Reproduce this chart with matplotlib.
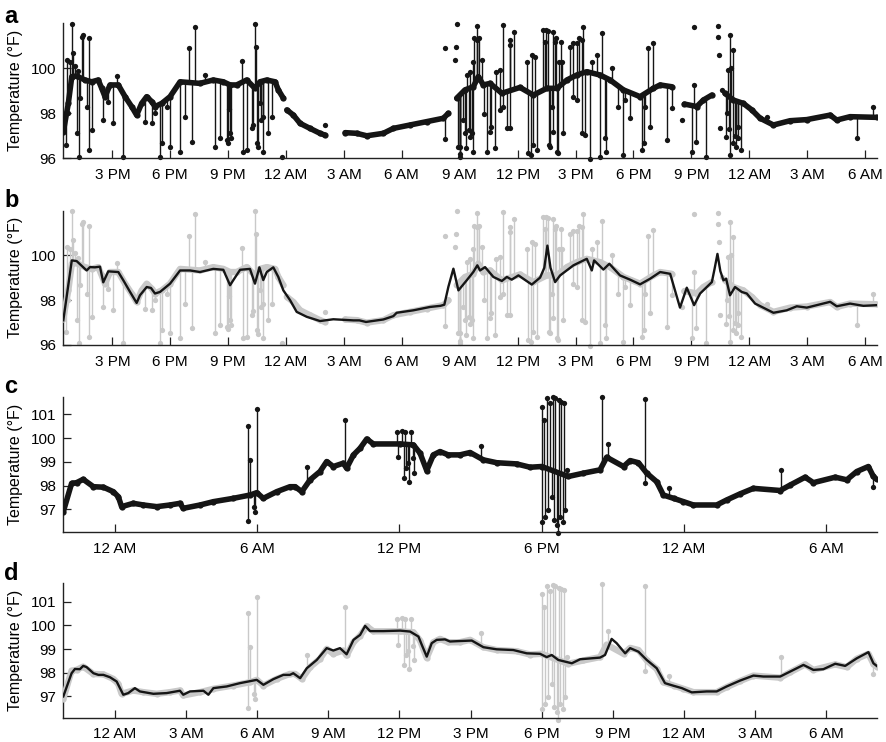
import numpy as np
import matplotlib
matplotlib.use("Agg")
import matplotlib.pyplot as plt

plt.rcParams['font.family'] = ['Liberation Sans', 'DejaVu Sans']

nan = np.nan

# ---------------- Panels a / b (hours since midnight of day 1) ----------------
ab_ticks = [15, 18, 21, 24, 27, 30, 33, 36, 39, 42, 45, 48, 51, 54]
ab_ticklabels = ['3 PM', '6 PM', '9 PM', '12 AM', '3 AM', '6 AM', '9 AM', '12 PM',
                 '3 PM', '6 PM', '9 PM', '12 AM', '3 AM', '6 AM']
ab_yticks = [96, 98, 100]

a_base_t = [12.46, 12.72, 12.9, 13.15, 13.58, 13.93, 14.27, 14.45, 14.62, 14.88, 15.31,
            15.66, 16.0, 16.26, 16.52, 16.78, 17.04, 17.21, 17.56, 17.99, 18.51, 19.54,
            20.23, 20.75, 21.1, 21.44, 21.96, 22.39, 22.65, 23.0, 23.43, 23.6, 23.86, 23.95,
            24.04, 24.38, 24.73, 25.24, 25.76, 26.02, 26.5,
            27.06, 27.66, 28.18, 29.04, 29.56, 30.42, 31.29, 32.15, 32.41, 32.6,
            32.84, 33.27, 33.7, 33.96, 34.22, 34.57, 35.18, 36.12, 36.81, 37.51, 38.03,
            38.55, 39.06, 39.58, 40.27, 40.79, 41.48, 42.34, 43.03, 43.38, 43.98, 44.3,
            44.64, 45.28, 45.62, 46.06, 46.4,
            46.74, 47.17, 47.69, 48.13, 48.56, 49.25, 50.11, 50.98, 52.19, 52.53, 53.22, 54.6]
a_base_v = [97.18, 98.44, 99.63, 99.66, 99.48, 99.4, 99.48, 99.11, 98.74, 99.26, 99.26,
            98.74, 98.3, 97.92, 98.44, 98.74, 98.52, 98.3, 98.44, 98.74, 99.4, 99.33,
            99.48, 99.4, 99.26, 99.26, 99.48, 99.11, 99.4, 99.48, 99.4, 99.04, 98.67, nan,
            98.15, 97.92, 97.55, 97.33, 97.11, 97.03, nan,
            97.14, 97.11, 97.0, 97.11, 97.33, 97.48, 97.63, 97.78, 98.0, nan,
            98.67, 99.04, 99.18, 99.63, 99.26, 99.33, 98.89, 99.15, 98.81, 99.11, 99.11,
            99.48, 99.7, 99.85, 99.7, 99.48, 99.04, 98.74, 99.11, 99.26, 99.18, nan,
            98.41, 98.3, 98.59, 98.81, nan,
            98.89, 98.59, 98.44, 98.15, 97.78, 97.48, 97.67, 97.72, 97.92, 97.7, 97.85, 97.82]

a_spike_t = [12.58, 12.63, 12.7, 12.81, 12.89, 12.98, 13.05, 13.15, 13.2, 13.29, 13.35, 13.41,
             13.5, 13.67, 13.81, 13.81,
             13.93, 14.5, 14.79, 15.05, 15.22, 15.53, 16.69, 17.04, 17.21, 17.47, 17.59, 17.81,
             17.99, 18.5, 18.76, 18.99, 19.11, 19.28, 19.8, 20.32, 20.58, 20.92, 21.0, 21.05,
             21.1, 21.15, 21.7,
             21.75, 21.96, 22.22, 22.3, 22.39, 22.43, 22.48, 22.55, 22.65, 22.7, 22.82, 22.82,
             23.08, 23.25,
             32.24, 32.93, 33.0, 33.02, 33.02, 33.17, 33.29, 33.33, 33.37, 33.46, 33.53, 33.55,
             33.62, 33.68, 33.71, 33.76, 33.89, 33.91, 34.02, 34.14, 34.24, 34.4, 34.57, 34.64,
             34.8, 34.9, 35.09, 35.09, 35.26, 35.26, 35.44, 35.58, 35.61, 35.61, 35.81, 36.47,
             36.56, 36.68, 36.73, 36.81, 36.9, 36.99, 37.33, 37.42, 37.47, 37.59, 37.6, 37.68,
             37.77, 37.85, 37.85, 37.94, 37.99, 38.03, 38.11, 38.16, 38.23, 38.29, 38.37, 38.72,
             38.86, 38.89, 39.06, 39.06, 39.2, 39.32, 39.32, 39.41,
             39.49, 39.75, 39.84, 40.1, 40.24, 40.36, 40.5, 40.56, 40.91, 41.22, 41.48, 41.57,
             41.82, 42.43, 42.52, 42.6, 42.77, 42.83, 43.0, 43.76, 44.02, 45.02, 45.16, 45.24,
             45.76, 46.8, 46.85, 46.92, 46.95, 47.0, 47.0, 47.05, 47.13, 47.18, 47.25, 47.32,
             47.4, 47.44, 47.58, 48.91, 53.57, 54.43]
a_spike_v = [96.59, 100.37, 98.0, 100.3, 101.97, 100.67, 100.1, 97.11, 99.9, 96.07, 98.7, 101.4,
             101.48, 98.3, 101.33, 96.37,
             97.26, 97.7, 98.52, 97.56, 99.66, 96.07, 97.63, 97.56, 98.0, 96.07, 96.67, 98.3,
             96.52, 96.3, 97.85, 100.89, 96.74, 101.85, 99.7, 96.52, 96.89, 96.81, 96.7, 98.2,
             97.11, 96.9, 100.33,
             96.3, 96.37, 97.33, 97.5, 101.97, 100.96, 96.67, 96.5, 98.44, 97.7, 96.3, 97.85,
             97.11, 97.85,
             96.84, 96.52, 96.2, 96.07, 96.52, 97.7, 97.11, 96.44, 99.7, 97.26, 99.85, 96.96,
             97.11, 100.3, 96.3, 101.33, 101.26, 101.88, 101.33, 100.37, 97.99, 96.3, 97.19, 97.41,
             96.44, 99.85, 99.93, 98.15, 101.93, 98.3, 97.33, 101.26, 101.04, 97.33, 101.63, 100.3,
             96.22, 96.15, 100.59, 96.59, 100.52, 96.37, 101.7, 101.19, 101.7, 101.67, 96.59, 96.52,
             98.3, 101.63, 97.19, 101.19, 101.33, 96.3, 96.22, 100.3, 101.19, 100.3, 97.11, 100.96,
             101.11, 98.74, 98.59, 101.11, 101.33, 101.26, 97.11, 101.85,
             97.04, 95.96, 100.3, 100.59, 96.07, 101.56, 96.89, 96.3, 100.0, 98.3, 96.15, 98.59,
             97.78, 96.37, 96.67, 98.3, 100.89, 97.41, 101.14, 96.81, 98.22, 96.3, 99.26, 96.74,
             96.07, 96.96, 98.0, 99.93, 97.3, 101.48, 96.15, 100.0, 100.81, 96.67, 97.0, 96.52,
             96.9, 97.41, 96.37, 97.85, 96.89, 98.3]

a_dot_t = [23.77, 26.02, 32.24, 32.76, 32.81, 32.84, 44.5, 45.11, 46.4, 46.4, 46.45, 46.49, 46.57]
a_dot_v = [96.07, 97.48, 100.89, 100.37, 100.96, 101.97, 97.7, 101.85, 101.88, 101.41, 100.59, 97.33, 99.04]

b_smooth_t = [12.46, 12.9, 13.15, 13.67, 13.84, 14.1, 14.36, 14.53, 14.79, 15.31, 15.57, 15.92,
              16.26, 16.43, 16.78, 17.0, 17.21, 17.47, 17.99, 18.51, 19.03, 19.54, 20.23, 20.75,
              21.1, 21.27, 21.62, 22.13, 22.39, 22.62, 22.82, 23.0, 23.34, 23.6, 23.86, 24.21,
              24.55, 25.07, 25.76, 26.45, 27.49, 27.8, 28.14, 29.04, 29.56, 29.73, 30.6, 31.46,
              32.0, 32.2, 32.41, 32.67, 32.93, 33.36, 33.7, 33.91, 34.05, 34.31, 34.74, 35.18,
              35.44, 35.69, 36.04, 36.73, 37.16, 37.38, 37.54, 37.7, 37.94, 38.2, 38.89, 39.58,
              39.84, 39.96, 40.44, 40.75, 41.3, 41.82, 42.34, 42.86, 43.38, 43.9, 44.41, 44.76,
              45.14, 45.45, 46.06, 46.2, 46.35, 46.5, 46.66, 46.8, 47.0, 47.26, 47.61, 47.87,
              48.3, 49.25, 49.94, 50.46, 50.98, 52.19, 52.53, 53.22, 53.91, 54.6]
b_smooth_v = [97.1, 99.78, 99.75, 99.33, 99.48, 99.47, 99.5, 98.8, 99.29, 99.26, 98.89, 98.37,
              97.88, 98.22, 98.59, 98.55, 98.3, 98.37, 98.74, 99.33, 99.33, 99.26, 99.4, 99.36,
              98.67, 98.9, 99.36, 99.4, 98.74, 99.47, 98.9, 99.26, 99.47, 99.04, 98.44, 98.0,
              97.48, 97.26, 97.07, 97.15, 97.1, 97.1, 97.03, 97.14, 97.29, 97.44, 97.55, 97.7,
              97.75, 97.8, 98.6, 99.41, 98.44, 98.89, 99.26, 99.56, 99.33, 99.48, 99.04, 98.86,
              99.04, 98.92, 99.11, 98.7, 99.01, 99.45, 100.44, 99.45, 98.81, 99.11, 99.56, 99.85,
              99.33, 99.78, 99.37, 99.63, 99.11, 98.92, 98.71, 98.96, 99.26, 99.18, 97.67, 98.56,
              97.78, 98.3, 98.81, 99.4, 100.07, 99.3, 98.89, 98.96, 98.22, 98.59, 98.37, 98.3,
              97.85, 97.44, 97.55, 97.73, 97.67, 97.93, 97.73, 97.85, 97.75, 97.78]

# ---------------- Panels c / d (hours since midnight of day 1) ----------------
c_ticks = [0, 6, 12, 18, 24, 30]
c_ticklabels = ['12 AM', '6 AM', '12 PM', '6 PM', '12 AM', '6 AM']
d_ticks = [0, 3, 6, 9, 12, 15, 18, 21, 24, 27, 30]
d_ticklabels = ['12 AM', '3 AM', '6 AM', '9 AM', '12 PM', '3 PM', '6 PM', '9 PM',
                '12 AM', '3 AM', '6 AM']
cd_yticks = [97, 98, 99, 100, 101]

c_base_t = [-2.18, -1.83, -1.62, -1.34, -0.91, -0.49, -0.07, 0.14, 0.28, 0.77, 1.2, 1.76, 2.32,
            2.74, 2.88, 3.59, 4.15, 4.99, 5.7, 5.98, 6.26, 6.82, 7.38, 7.6, 7.88, 8.23, 8.65,
            8.93, 9.21, 9.63, 9.77, 10.06, 10.34, 10.62, 10.9, 12.03, 12.59, 12.87, 13.15,
            13.43, 13.71, 14.06, 14.55, 14.98, 15.54, 16.1, 16.94, 17.51, 18.0, 19.12, 19.76,
            20.46, 20.74, 21.45, 21.73, 22.08, 22.43, 22.85, 23.13, 23.56, 23.98, 24.4, 25.38,
            25.8, 26.37, 26.93, 28.06, 28.48, 29.11, 29.46, 30.38, 30.87, 31.29, 31.78, 31.99,
            32.13]
c_base_v = [96.9, 98.09, 98.12, 98.26, 97.95, 97.93, 97.74, 97.53, 97.11, 97.25, 97.18, 97.11,
            97.18, 97.25, 97.04, 97.18, 97.32, 97.46, 97.6, 97.7, 97.46, 97.74, 97.95, 97.95,
            97.74, 98.24, 98.59, 99.01, 98.8, 98.94, 98.73, 99.29, 99.57, 99.96, 99.75, 99.75,
            99.71, 99.36, 98.63, 99.29, 99.43, 99.29, 99.29, 99.39, 99.08, 98.96, 98.91, 98.77,
            98.8, 98.38, 98.52, 98.66, 99.19, 98.8, 99.05, 98.96, 98.52, 98.16, 97.6, 97.46,
            97.32, 97.18, 97.18, 97.39, 97.65, 97.88, 97.79, 98.02, 98.35, 98.12, 98.35, 98.24,
            98.59, 98.8, 98.38, 98.26]

c_spike_t = [5.6, 5.6, 5.7, 5.86, 5.91, 5.98, 8.12, 9.7, 11.88, 11.95, 12.1, 12.17, 12.24, 12.28,
             12.38, 12.42, 12.47, 12.56, 12.61, 15.43,
             18.03, 18.03, 18.1, 18.14, 18.21, 18.28, 18.35, 18.42, 18.49, 18.53, 18.58, 18.63,
             18.67, 18.72, 18.77, 18.83, 18.89, 18.94, 19.0, 19.05,
             20.55, 20.78, 22.36, 22.36, 23.39, 28.08, 31.97]
c_spike_v = [100.51, 96.52, 99.08, 97.11, 96.9, 101.21, 98.77, 100.76, 100.27, 99.19, 100.3, 98.31,
             100.27, 98.73, 98.94, 98.16, 100.27, 99.15, 98.54, 99.67,
             101.32, 96.48, 100.76, 96.69, 101.67, 96.97, 101.46, 97.53, 101.72, 96.55, 101.67,
             96.34, 96.02, 101.6, 96.69, 101.53, 96.48, 101.49, 96.97, 98.66,
             101.74, 99.75, 101.65, 98.09, 97.88, 98.66, 97.95]

d_smooth_t = [-2.18, -1.83, -1.69, -1.48, -1.34, -1.2, -0.91, -0.7, -0.49, -0.21, 0.07, 0.21,
              0.35, 0.56, 0.84, 1.05, 1.62, 2.18, 2.74, 2.88, 3.16, 3.73, 3.94, 4.15, 4.71,
              5.27, 5.98, 6.26, 6.68, 7.1, 7.38, 7.52, 7.81, 8.09, 8.51, 8.93, 9.21, 9.49,
              9.77, 10.06, 10.34, 10.55, 10.76, 11.32, 12.03, 12.45, 12.8, 12.94, 13.15, 13.36,
              13.57, 13.92, 14.13, 14.55, 15.05, 15.54, 16.1, 16.8, 17.37, 17.93, 18.21, 18.42,
              18.7, 19.27, 19.62, 20.46, 20.67, 20.95, 21.16, 21.52, 21.73, 22.08, 22.43, 22.85,
              23.2, 23.56, 23.91, 24.33, 24.96, 25.38, 25.8, 26.37, 26.93, 27.35, 28.06, 28.48,
              29.04, 29.46, 29.88, 30.38, 30.8, 31.29, 31.78, 31.99, 32.13]
d_smooth_v = [97.0, 97.98, 98.16, 98.15, 98.29, 98.24, 97.98, 97.91, 97.91, 97.81, 97.63, 97.35,
              97.07, 97.14, 97.35, 97.21, 97.11, 97.14, 97.24, 97.07, 97.21, 97.24, 97.07, 97.35,
              97.42, 97.56, 97.7, 97.49, 97.73, 97.91, 97.91, 97.98, 97.77, 98.19, 98.54, 99.04,
              98.94, 99.04, 98.78, 99.39, 99.6, 99.98, 99.76, 99.76, 99.78, 99.74, 99.53, 99.18,
              98.68, 99.25, 99.39, 99.41, 99.32, 99.34, 99.36, 99.08, 98.99, 98.96, 98.82, 98.8,
              98.66, 98.75, 98.54, 98.4, 98.57, 98.64, 98.75, 99.43, 99.25, 98.82, 99.04, 98.89,
              98.54, 98.19, 97.56, 97.45, 97.35, 97.17, 97.21, 97.21, 97.42, 97.67, 97.88, 97.84,
              97.84, 98.05, 98.33, 98.12, 98.15, 98.38, 98.29, 98.61, 98.87, 98.4, 98.29]

# ---------------- drawing ----------------
BLACK = '#151515'
GRAY = '#c9c9c9'
W, H = 887.0, 742.0


def make_ax(fig, top, bottom):
    ax = fig.add_axes([63.3 / W, 1 - bottom / H, 813.4 / W, (bottom - top) / H])
    for s in ('top', 'right'):
        ax.spines[s].set_visible(False)
    for s in ('left', 'bottom'):
        ax.spines[s].set_linewidth(1.0)
        ax.spines[s].set_color('#222222')
    ax.tick_params(direction='in', length=6, width=0.9, labelsize=11, color='#222222',
                   pad=5)
    ax.tick_params(axis='x', pad=7)
    ax.set_ylabel('Temperature (°F)', fontsize=11.5)
    ax.yaxis.set_label_coords(-0.05, 0.5)
    return ax


def draw_raw(ax, bt, bv, st, sv, color, dt=None, dv=None, base_lw=4.0):
    bt = np.asarray(bt, float)
    bv = np.asarray(bv, float)
    good = ~np.isnan(bv)
    st = np.asarray(st, float)
    sv = np.asarray(sv, float)
    anchor = np.interp(st, bt[good], bv[good])
    xs = np.column_stack([st, st, np.full_like(st, nan)]).ravel()
    ys = np.column_stack([anchor, sv, np.full_like(st, nan)]).ravel()
    ax.plot(xs, ys, '-', color=color, lw=1.0, clip_on=False, zorder=2)
    ax.plot(st, sv, 'o', color=color, ms=3.8, mew=0, clip_on=False, zorder=2)
    ax.plot(bt, bv, '-', color=color, lw=base_lw, solid_capstyle='round',
            solid_joinstyle='round', zorder=3)
    ax.plot(bt, bv, 'o', color=color, ms=4.5, mew=0, zorder=3)
    if dt is not None:
        ax.plot(dt, dv, 'o', color=color, ms=3.8, mew=0, clip_on=False, zorder=2)


fig = plt.figure(figsize=(W / 100, H / 100), dpi=100)

# a
ax_a = make_ax(fig, 23.3, 158.3)
draw_raw(ax_a, a_base_t, a_base_v, a_spike_t, a_spike_v, BLACK, a_dot_t, a_dot_v)
# b
ax_b = make_ax(fig, 210.7, 345.0)
draw_raw(ax_b, a_base_t, a_base_v, a_spike_t, a_spike_v, GRAY, a_dot_t, a_dot_v, base_lw=4.6)
ax_b.plot(b_smooth_t, b_smooth_v, '-', color=BLACK, lw=1.7, zorder=5)

for ax in (ax_a, ax_b):
    ax.set_xlim(12.46, 54.6)
    ax.set_ylim(96, 102)
    ax.set_xticks(ab_ticks)
    ax.set_xticklabels(ab_ticklabels)
    ax.set_yticks(ab_yticks)

# c
ax_c = make_ax(fig, 396.7, 532.3)
draw_raw(ax_c, c_base_t, c_base_v, c_spike_t, c_spike_v, BLACK)
ax_c.set_ylim(96.03, 101.74)
ax_c.set_xticks(c_ticks)
ax_c.set_xticklabels(c_ticklabels)
# d
ax_d = make_ax(fig, 583.3, 717.7)
draw_raw(ax_d, c_base_t, c_base_v, c_spike_t, c_spike_v, GRAY, base_lw=4.6)
ax_d.plot(d_smooth_t, d_smooth_v, '-', color=BLACK, lw=1.7, zorder=5)
ax_d.set_ylim(96.1, 101.78)
ax_d.set_xticks(d_ticks)
ax_d.set_xticklabels(d_ticklabels)

for ax in (ax_c, ax_d):
    ax.set_xlim(-2.18, 32.13)
    ax.set_yticks(cd_yticks)

for letter, ypix in (('a', 23), ('b', 207), ('c', 393), ('d', 580)):
    fig.text(4 / W, 1 - ypix / H, letter, fontsize=17, fontweight='bold',
             ha='left', va='baseline')

fig.savefig('out.png', dpi=100)
